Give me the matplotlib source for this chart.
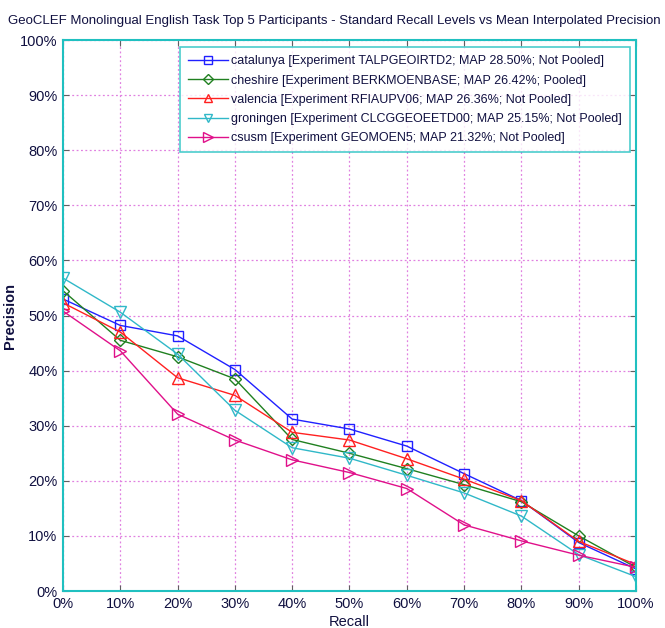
import matplotlib
matplotlib.use("Agg")
import matplotlib.pyplot as plt
from matplotlib.ticker import FuncFormatter, MultipleLocator

recall = [0, 10, 20, 30, 40, 50, 60, 70, 80, 90, 100]
catalunya = [53.0, 48.2, 46.3, 40.2, 31.2, 29.4, 26.3, 21.3, 16.4, 8.8, 4.0]
cheshire = [54.5, 45.5, 42.5, 38.5, 27.5, 25.0, 22.2, 19.3, 16.2, 10.0, 4.3]
valencia = [52.3, 47.0, 38.7, 35.5, 28.8, 27.4, 24.0, 20.3, 16.4, 9.0, 4.8]
groningen = [56.8, 50.6, 43.0, 32.8, 26.0, 24.1, 21.0, 17.8, 13.6, 6.6, 2.6]
csusm = [50.8, 43.6, 32.1, 27.4, 23.8, 21.5, 18.6, 12.0, 9.1, 6.5, 4.3]

labels = [
    "catalunya [Experiment TALPGEOIRTD2; MAP 28.50%; Not Pooled]",
    "cheshire [Experiment BERKMOENBASE; MAP 26.42%; Pooled]",
    "valencia [Experiment RFIAUPV06; MAP 26.36%; Not Pooled]",
    "groningen [Experiment CLCGGEOEETD00; MAP 25.15%; Not Pooled]",
    "csusm [Experiment GEOMOEN5; MAP 21.32%; Not Pooled]",
]
title = "GeoCLEF Monolingual English Task Top 5 Participants - Standard Recall Levels vs Mean Interpolated Precision"

series = [catalunya, cheshire, valencia, groningen, csusm]
colors = ["#2020ff", "#208020", "#ff2020", "#30b8c8", "#e0108a"]
markers = ["s", "D", "^", "v", ">"]
msizes = [7, 6, 8, 8, 9]

plt.rcParams['font.family'] = ['Liberation Sans', 'DejaVu Sans']
txt = "#101040"
spine = "#20c0c0"

fig = plt.figure(figsize=(6.65, 6.28), dpi=100)
ax = fig.add_axes([0.0947, 0.0589, 0.8617, 0.8774])

for y, c, m, ms, lab in zip(series, colors, markers, msizes, labels):
    ax.plot(recall, y, color=c, marker=m, markersize=ms, markerfacecolor='none',
            markeredgecolor=c, markeredgewidth=1.0, linewidth=1.0, label=lab)

ax.set_xlim(0, 100)
ax.set_ylim(0, 100)
ax.xaxis.set_major_locator(MultipleLocator(10))
ax.yaxis.set_major_locator(MultipleLocator(10))
fmt = FuncFormatter(lambda v, p: f"{int(round(v))}%")
ax.xaxis.set_major_formatter(fmt)
ax.yaxis.set_major_formatter(fmt)
ax.grid(True, color="#e080e0", linestyle=(0, (1.5, 2)), linewidth=0.9)
ax.set_axisbelow(True)
for s in ax.spines.values():
    s.set_color(spine)
    s.set_linewidth(1.5)
ax.tick_params(direction='in', length=4, color="#606060", labelsize=10.5, labelcolor=txt, pad=4,
               top=True, right=True)

ax.set_xlabel("Recall", fontsize=10.5, color=txt, labelpad=3)
ax.set_ylabel("Precision", fontsize=10.5, color=txt, fontweight='bold', labelpad=2)
fig.text(0.012, 0.967, title, fontsize=9.55, color=txt, ha='left', va='center')

leg = ax.legend(loc='upper right', bbox_to_anchor=(0.99, 0.987), fontsize=9.0,
                frameon=True, fancybox=False, borderpad=0.65, labelspacing=0.58,
                handlelength=3.2, handletextpad=0.3, borderaxespad=0, markerscale=0.8)
leg.get_frame().set_edgecolor(spine)
leg.get_frame().set_linewidth(1.2)
for t in leg.get_texts():
    t.set_color(txt)

fig.savefig("out.png", dpi=100)
